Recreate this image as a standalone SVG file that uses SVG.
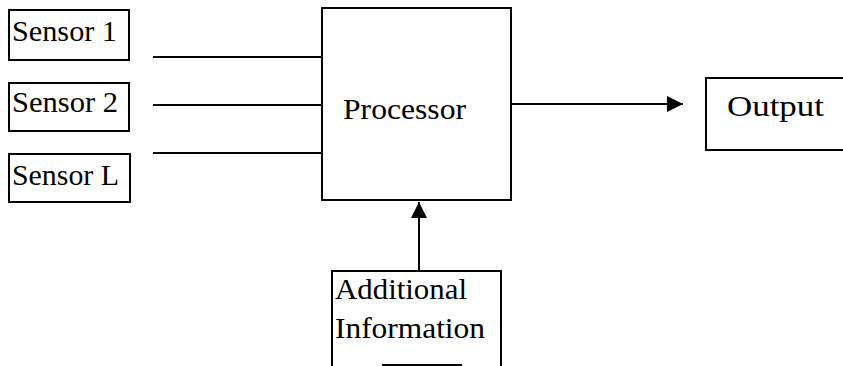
<svg xmlns="http://www.w3.org/2000/svg" width="843" height="366" viewBox="0 0 843 366">
<style>
.box{fill:none;stroke:#000;stroke-width:2}
.t{font-family:'Liberation Serif','Times New Roman',serif;font-size:30px;fill:#000}
.c{stroke:#000;stroke-width:2;fill:none}
</style>
<defs>
<marker id="ah" markerWidth="16" markerHeight="16" viewBox="0 0 16 16" refX="16" refY="8" orient="auto" markerUnits="userSpaceOnUse">
<path d="M0,0 L16,8 L0,16 Z" fill="#000"/>
</marker>
</defs>
<rect width="843" height="366" fill="#fff"/>
<g id="sensor1"><rect class="box" x="9" y="10" width="120" height="50"/><text class="t" x="12" y="41" textLength="105" lengthAdjust="spacingAndGlyphs">Sensor 1</text></g>
<g id="sensor2"><rect class="box" x="9" y="83" width="120" height="48"/><text class="t" x="12" y="112" textLength="106" lengthAdjust="spacingAndGlyphs">Sensor 2</text></g>
<g id="sensorL"><rect class="box" x="9" y="154" width="121" height="48"/><text class="t" x="12" y="185" textLength="107" lengthAdjust="spacingAndGlyphs">Sensor L</text></g>
<g id="processor"><rect class="box" x="322" y="8" width="189" height="192"/><text class="t" x="343" y="119" font-size="28" textLength="123" lengthAdjust="spacingAndGlyphs">Processor</text></g>
<g id="output"><path class="box" d="M850,78 H706 V150 H850"/><text class="t" x="727" y="116" font-size="28" textLength="97" lengthAdjust="spacingAndGlyphs">Output</text></g>
<g id="additional"><path class="box" d="M332,372 V271 H501 V372"/><line class="box" x1="382" y1="365" x2="462" y2="365"/><text class="t" x="335" y="299" textLength="132" lengthAdjust="spacingAndGlyphs">Additional</text><text class="t" x="335" y="338" textLength="150" lengthAdjust="spacingAndGlyphs">Information</text></g>
<g id="connectors">
<line class="c" x1="153" y1="57" x2="322" y2="57"/>
<line class="c" x1="153" y1="105" x2="322" y2="105"/>
<line class="c" x1="153" y1="153" x2="322" y2="153"/>
<line class="c" x1="511" y1="104" x2="683" y2="104" marker-end="url(#ah)"/>
<line class="c" x1="419" y1="271" x2="419" y2="202" marker-end="url(#ah)"/>
</g>
</svg>
